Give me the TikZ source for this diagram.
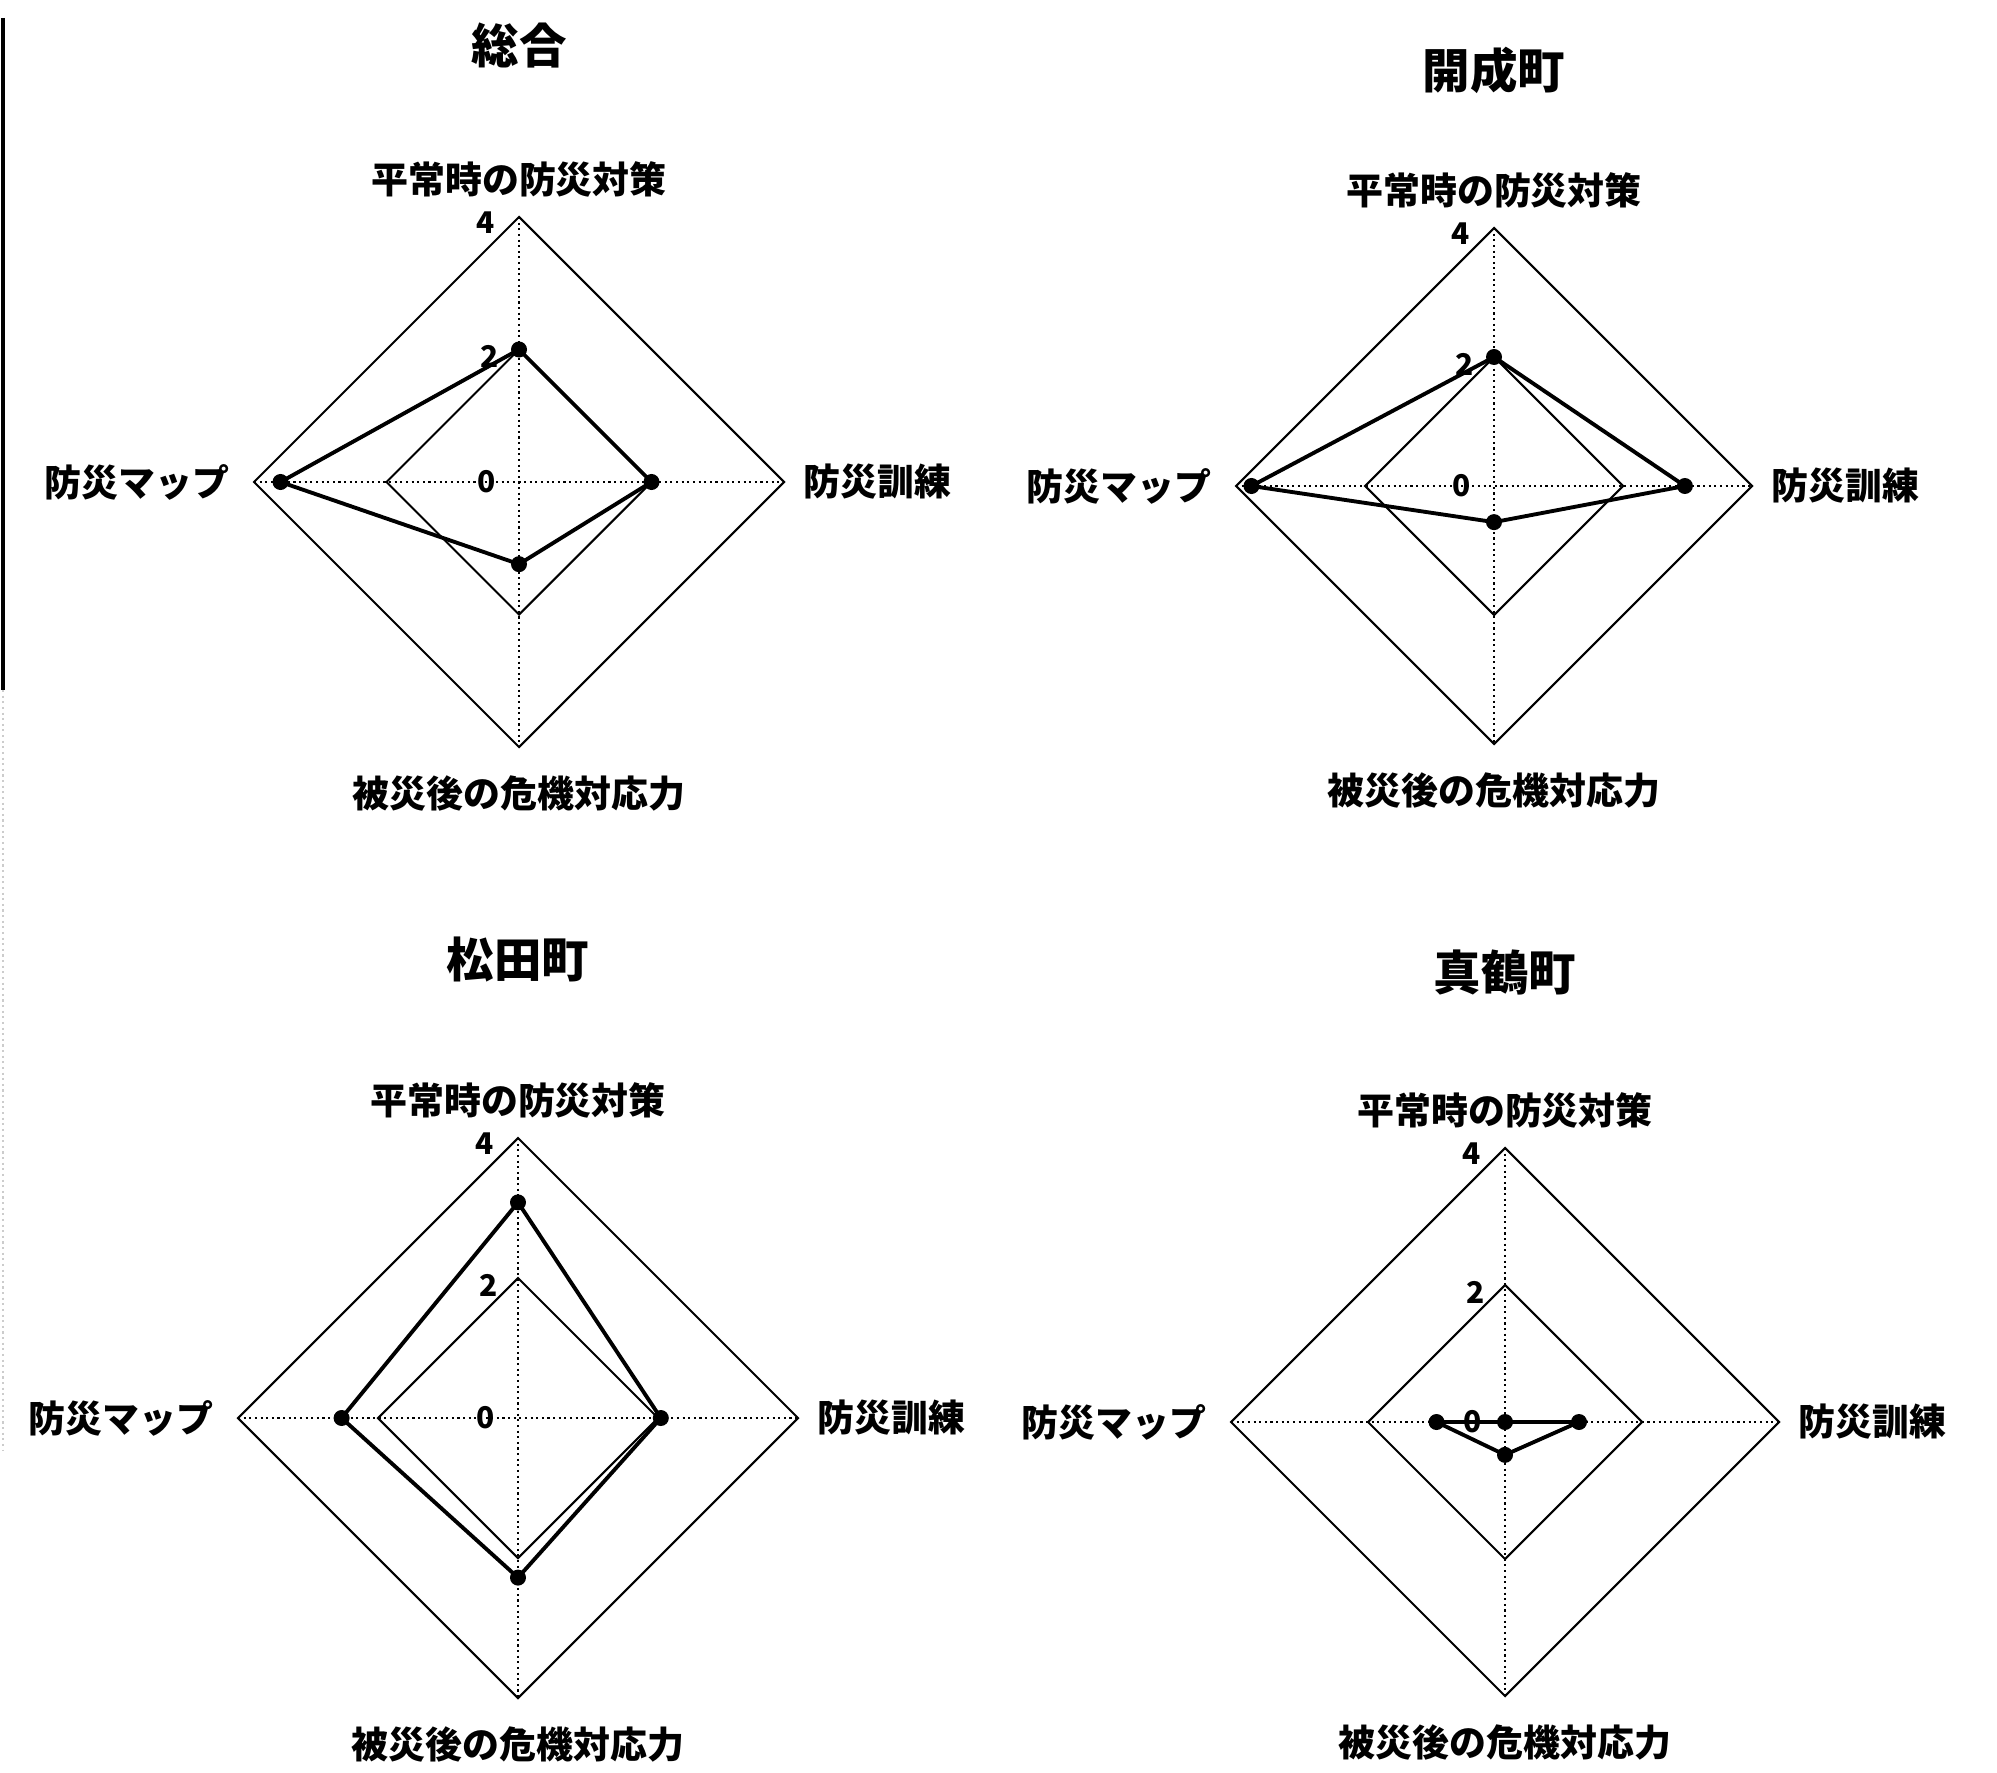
\documentclass[tikz,border=0pt]{standalone}
\usepackage{fontspec}
\setmainfont{Noto Sans CJK JP}
\usetikzlibrary{positioning}
\usetikzlibrary{calc}

\begin{document}
\begin{tikzpicture}[x=0.01cm, y=-0.01cm,
    grid/.style={line width=0.6pt},
    axis/.style={line width=0.6pt, densely dotted},
    series/.style={line width=1.1pt},
    dot/.style={circle, fill, inner sep=0pt, minimum size=0.16cm},
    title/.style={font=\fontsize{13.5}{16}\selectfont\bfseries},
    axlabel/.style={font=\fontsize{10.5}{12}\selectfont\bfseries, inner sep=0pt},
    tick/.style={font=\fontsize{8.5}{9}\selectfont\bfseries, inner sep=0pt, anchor=east}]
  \useasboundingbox (0,0) rectangle (1997,1773);
  % frame edge on the left
  \draw[line width=1pt] (3,18) -- (3,690);
  \draw[gray!40, densely dotted, line width=0.6pt] (3,690) -- (3,1450);
  \foreach \p/\cx/\cy/\R/\ty/\name/\vt/\vr/\vb/\vl in {
      1/519/482/265/45/総合/0.5/0.5/0.31/0.9,
      2/1494/486/258/70/開成町/0.5/0.74/0.14/0.94,
      3/518/1418/280/960/松田町/0.77/0.51/0.57/0.63,
      4/1505/1422/274/972/真鶴町/0/0.27/0.12/0.25}
  {
    \coordinate (c\p) at (\cx,\cy);
    \coordinate (n\p) at (\cx,\cy-\R);
    \coordinate (e\p) at (\cx+\R,\cy);
    \coordinate (s\p) at (\cx,\cy+\R);
    \coordinate (w\p) at (\cx-\R,\cy);
    \coordinate (h\p) at ($(c\p)!0.5!(n\p)$);
    % grid and axes
    \draw[grid] (n\p) -- (e\p) -- (s\p) -- (w\p) -- cycle;
    \draw[grid] (h\p) -- ($(c\p)!0.5!(e\p)$) -- ($(c\p)!0.5!(s\p)$)
      -- ($(c\p)!0.5!(w\p)$) -- cycle;
    \draw[axis] (n\p) -- (s\p);
    \draw[axis] (w\p) -- (e\p);
    % labels
    \node[title] (title\p) at (\cx,\ty) {\name};
    \node[axlabel] (top\p) at ($(n\p)+(0,-38)$) {平常時の防災対策};
    \node[axlabel] (bot\p) at ($(s\p)+(0,46)$) {被災後の危機対応力};
    \node[axlabel, anchor=east] (left\p) at ($(w\p)+(-24,0)$) {防災マップ};
    \node[axlabel, anchor=west] (right\p) at ($(e\p)+(19,0)$) {防災訓練};
    \node[tick] (four\p) at ($(n\p)+(-24,6)$) {4};
    \node[tick] (two\p) at ($(h\p)+(-20,7)$) {2};
    \node[tick] (zero\p) at ($(c\p)+(-23,0)$) {0};
    % data
    \coordinate (dt\p) at ($(c\p)!\vt!(n\p)$);
    \coordinate (dr\p) at ($(c\p)!\vr!(e\p)$);
    \coordinate (db\p) at ($(c\p)!\vb!(s\p)$);
    \coordinate (dl\p) at ($(c\p)!\vl!(w\p)$);
    \draw[series] (dt\p) -- (dr\p) -- (db\p) -- (dl\p) -- cycle;
    \foreach \q in {dt,dr,db,dl}
      \node[dot] at (\q\p) {};
  }
\end{tikzpicture}
\end{document}
